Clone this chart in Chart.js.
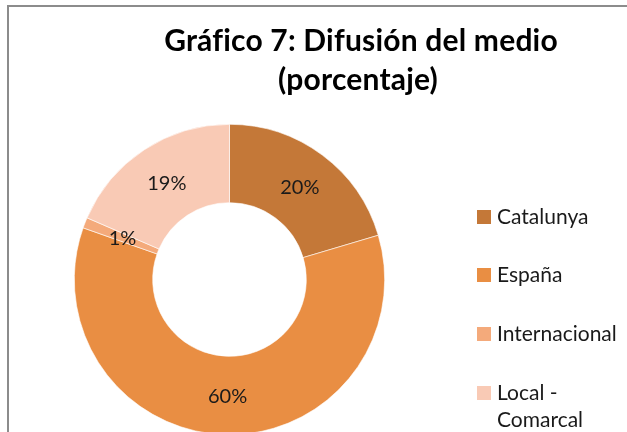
<!DOCTYPE html>
<html>
<head>
<meta charset="utf-8">
<script src="https://cdn.jsdelivr.net/npm/chart.js@4/dist/chart.umd.min.js"></script>
<style>
  html, body { margin: 0; padding: 0; background: #fff; overflow: hidden; width: 627px; height: 432px; }
  #frame { position: absolute; left: 7px; top: 5px; width: 700px; height: 500px; border: 2px solid #8c8c8c; box-sizing: border-box; }
  canvas { position: absolute; left: 0; top: 0; }
</style>
</head>
<body>
<div id="frame"></div>
<canvas id="c" width="627" height="460"></canvas>
<script>
const categories = ["Catalunya", "España", "Internacional", "Local - Comarcal"];
const legendLines = [["Catalunya"], ["España"], ["Internacional"], ["Local -", "Comarcal"]];
const values = [20.4, 60.0, 1.1, 18.5];
const valueLabels = ["20%", "60%", "1%", "19%"];
const colors = ["#C47838", "#E98E43", "#F4AA7B", "#F9CAB5"];
const titleLines = ["Gráfico 7: Difusión del medio", "(porcentaje)"];

const overlay = {
  id: "overlay",
  afterDatasetsDraw(chart) {
    const ctx = chart.ctx;
    const meta = chart.getDatasetMeta(0);
    ctx.save();
    ctx.fillStyle = "#1a1a1a";
    ctx.font = "20px Lato";
    ctx.textAlign = "center";
    ctx.textBaseline = "middle";
    meta.data.forEach((arc, i) => {
      const p = arc.tooltipPosition();
      ctx.fillText(valueLabels[i], p.x + 1, p.y + 1);
    });
    ctx.restore();
  },
  afterDraw(chart) {
    const ctx = chart.ctx;
    ctx.save();
    // Title
    ctx.fillStyle = "#000";
    ctx.font = "bold 30px Lato";
    if ("letterSpacing" in ctx) ctx.letterSpacing = "0.2px";
    ctx.textAlign = "center";
    ctx.textBaseline = "alphabetic";
    ctx.fillText(titleLines[0], 361, 51);
    ctx.fillText(titleLines[1], 358, 90);
    if ("letterSpacing" in ctx) ctx.letterSpacing = "0px";
    // Legend
    const rowY = [217, 275, 334, 393];
    ctx.font = "21px Lato";
    ctx.textAlign = "left";
    ctx.textBaseline = "middle";
    legendLines.forEach((lines, i) => {
      ctx.fillStyle = colors[i];
      ctx.fillRect(477, rowY[i] - 7, 14, 14);
      ctx.fillStyle = "#1a1a1a";
      lines.forEach((t, j) => ctx.fillText(t, 497, rowY[i] + j * 27));
    });
    ctx.restore();
  }
};

new Chart(document.getElementById("c"), {
  type: "doughnut",
  data: {
    labels: categories,
    datasets: [{
      data: values,
      backgroundColor: colors,
      borderColor: "#ffffff",
      borderWidth: 0.6
    }]
  },
  options: {
    responsive: false,
    animation: false,
    cutout: "49.5%",
    layout: { padding: { left: 74, top: 124, right: 242, bottom: 25 } },
    plugins: {
      legend: { display: false },
      title: { display: false },
      tooltip: { enabled: false }
    }
  },
  plugins: [overlay]
});
</script>
</body>
</html>
